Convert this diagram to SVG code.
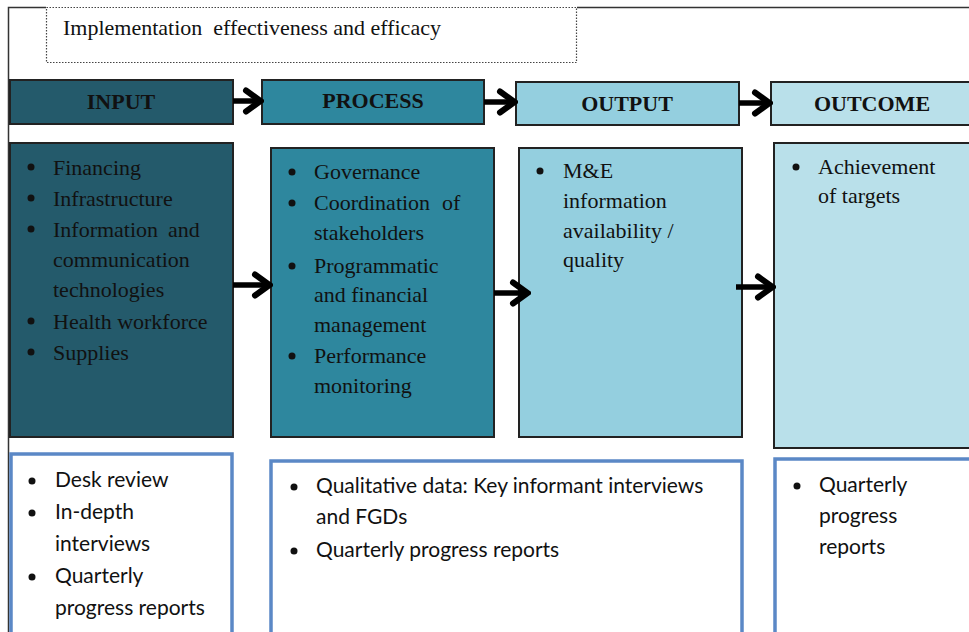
<svg xmlns="http://www.w3.org/2000/svg" width="969" height="632" viewBox="0 0 969 632">
  <style>
    .serif { font-family: "Liberation Serif", "Times New Roman", serif; fill: #111; }
    .head { font-family: "Liberation Serif", "Times New Roman", serif; font-weight: bold; font-size: 22px; fill: #111; text-anchor: middle; }
    .body { font-size: 22px; }
    .sans { font-family: "Lato", "Liberation Sans", sans-serif; font-size: 21px; fill: #111; }
    .dot { fill: #111; }
    .box { stroke: #222; stroke-width: 2; }
    .src { fill: #fff; stroke: #5b88c6; stroke-width: 3.5; }
    .arrow { fill: none; stroke: #000; stroke-width: 5.5; marker-end: url(#chev); }
    .frame { fill: none; stroke: #333; stroke-width: 1.5; }
  </style>
  <defs>
    <marker id="chev" viewBox="0 0 22 28" refX="19" refY="14" markerWidth="22" markerHeight="28" markerUnits="userSpaceOnUse" orient="auto">
      <path d="M4 3.5 L18.5 14 L4 24.5" fill="none" stroke="#000" stroke-width="6" stroke-linecap="round" stroke-linejoin="miter"/>
    </marker>
  </defs>

  <rect width="969" height="632" fill="#fff"/>

  <!-- outer frame -->
  <path class="frame" d="M8.5 640 V7.5 H46 M577 7.5 H975"/>

  <!-- heading -->
  <g id="title">
    <rect x="46.5" y="7.5" width="530" height="55" fill="#fff" stroke="#444" stroke-width="1.2" stroke-dasharray="1.5 1.5"/>
    <text class="serif" x="63" y="35" font-size="22" xml:space="preserve">Implementation  effectiveness and efficacy</text>
  </g>

  <!-- stage headers -->
  <g id="input-head">
    <rect class="box" x="10" y="80" width="223" height="44" fill="#245a6b"/>
    <text class="head" x="121" y="109">INPUT</text>
  </g>
  <g id="process-head">
    <rect class="box" x="262" y="80" width="222" height="44" fill="#2e879e"/>
    <text class="head" x="373" y="108">PROCESS</text>
  </g>
  <g id="output-head">
    <rect class="box" x="516" y="82" width="223" height="43" fill="#94cfdf"/>
    <text class="head" x="627" y="111">OUTPUT</text>
  </g>
  <g id="outcome-head">
    <rect class="box" x="771" y="82" width="210" height="43" fill="#b9e0ea"/>
    <text class="head" x="872" y="111">OUTCOME</text>
  </g>

  <!-- stage contents -->
  <g id="input-body">
    <rect class="box" x="10" y="143" width="223" height="294" fill="#245a6b"/>
    <g class="dot">
      <circle cx="31" cy="167" r="3.5"/>
      <circle cx="31" cy="198" r="3.5"/>
      <circle cx="31" cy="229" r="3.5"/>
      <circle cx="31" cy="321" r="3.5"/>
      <circle cx="31" cy="352" r="3.5"/>
    </g>
    <g class="serif body">
      <text x="53" y="175">Financing</text>
      <text x="53" y="206">Infrastructure</text>
      <text x="53" y="237">Information</text><text x="168" y="237">and</text>
      <text x="53" y="267">communication</text>
      <text x="53" y="297">technologies</text>
      <text x="53" y="329">Health workforce</text>
      <text x="53" y="360">Supplies</text>
    </g>
  </g>
  <g id="process-body">
    <rect class="box" x="271" y="148" width="223" height="289" fill="#2e879e"/>
    <g class="dot">
      <circle cx="292" cy="172" r="3.5"/>
      <circle cx="292" cy="203" r="3.5"/>
      <circle cx="292" cy="266" r="3.5"/>
      <circle cx="292" cy="356" r="3.5"/>
    </g>
    <g class="serif body">
      <text x="314" y="179">Governance</text>
      <text x="314" y="210">Coordination</text><text x="442" y="210">of</text>
      <text x="314" y="240">stakeholders</text>
      <text x="314" y="273">Programmatic</text>
      <text x="314" y="302">and financial</text>
      <text x="314" y="332">management</text>
      <text x="314" y="363">Performance</text>
      <text x="314" y="393">monitoring</text>
    </g>
  </g>
  <g id="output-body">
    <rect class="box" x="519" y="148" width="223" height="289" fill="#94cfdf"/>
    <circle class="dot" cx="540" cy="171" r="3.5"/>
    <g class="serif body">
      <text x="563" y="178">M&amp;E</text>
      <text x="563" y="208">information</text>
      <text x="563" y="238">availability /</text>
      <text x="563" y="267">quality</text>
    </g>
  </g>
  <g id="outcome-body">
    <rect class="box" x="774" y="143" width="210" height="305" fill="#b9e0ea"/>
    <circle class="dot" cx="796" cy="167" r="3.5"/>
    <g class="serif body">
      <text x="818" y="174">Achievement</text>
      <text x="818" y="203">of targets</text>
    </g>
  </g>

  <!-- data sources -->
  <g id="input-sources">
    <rect class="src" x="11" y="454" width="221" height="200"/>
    <g class="dot">
      <circle cx="32" cy="481" r="3.5"/>
      <circle cx="32" cy="513" r="3.5"/>
      <circle cx="32" cy="577" r="3.5"/>
    </g>
    <g class="sans">
      <text x="55" y="487">Desk review</text>
      <text x="55" y="519">In-depth</text>
      <text x="55" y="551">interviews</text>
      <text x="55" y="583">Quarterly</text>
      <text x="55" y="615">progress reports</text>
    </g>
  </g>
  <g id="process-output-sources">
    <rect class="src" x="271" y="461" width="471" height="200"/>
    <g class="dot">
      <circle cx="294" cy="487" r="3.5"/>
      <circle cx="294" cy="551" r="3.5"/>
    </g>
    <g class="sans">
      <text x="316" y="493">Qualitative data: Key informant interviews</text>
      <text x="316" y="524">and FGDs</text>
      <text x="316" y="557">Quarterly progress reports</text>
    </g>
  </g>
  <g id="outcome-sources">
    <rect class="src" x="775" y="459" width="210" height="200"/>
    <circle class="dot" cx="797" cy="486" r="3.5"/>
    <g class="sans">
      <text x="819" y="492">Quarterly</text>
      <text x="819" y="523">progress</text>
      <text x="819" y="554">reports</text>
    </g>
  </g>

  <!-- connectors -->
  <g id="connectors">
    <path class="arrow" d="M233 101 H261"/>
    <path class="arrow" d="M484 102 H515"/>
    <path class="arrow" d="M739 103 H770"/>
    <path class="arrow" d="M233 285 H270"/>
    <path class="arrow" d="M494 293 H528"/>
    <path class="arrow" d="M736 287 H773"/>
  </g>
</svg>
